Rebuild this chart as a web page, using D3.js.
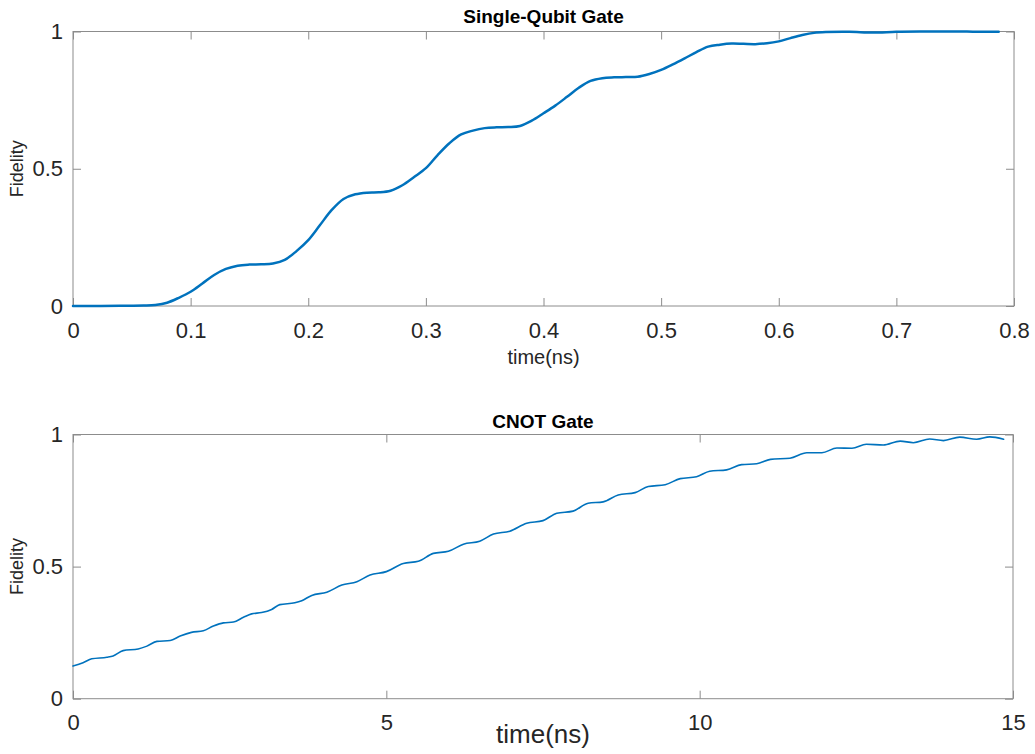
<!DOCTYPE html>
<html>
<head>
<meta charset="utf-8">
<script src="https://cdn.jsdelivr.net/npm/d3@7"></script>
<style>
  html, body { margin: 0; padding: 0; background: #fff; }
  svg { display: block; }
  text { font-family: "Liberation Sans", Arial, Helvetica, sans-serif; }
</style>
</head>
<body>
<svg id="chart" width="1035" height="754"></svg>
<script>
// ---------- Data ----------
const singleTime = [0, 0.02, 0.04, 0.06, 0.07, 0.08, 0.09, 0.10, 0.11, 0.12, 0.13, 0.14, 0.15, 0.16, 0.17, 0.18, 0.19,
  0.20, 0.21, 0.22, 0.23, 0.24, 0.25, 0.26, 0.27, 0.28, 0.29, 0.30, 0.31, 0.32, 0.33, 0.34, 0.35, 0.36, 0.37, 0.38, 0.39,
  0.40, 0.41, 0.42, 0.43, 0.44, 0.45, 0.46, 0.47, 0.48, 0.49, 0.50, 0.51, 0.52, 0.53, 0.54, 0.55, 0.56, 0.57, 0.58, 0.59,
  0.60, 0.61, 0.62, 0.63, 0.64, 0.66, 0.68, 0.70, 0.72, 0.74, 0.76, 0.77, 0.787];
const singleFidelity = [0, 0, 0.001, 0.002, 0.004, 0.012, 0.03, 0.052, 0.082, 0.113, 0.135, 0.147, 0.151, 0.152, 0.155, 0.168, 0.2,
  0.24, 0.295, 0.35, 0.39, 0.407, 0.413, 0.414, 0.42, 0.44, 0.47, 0.502, 0.55, 0.593, 0.625, 0.639, 0.648, 0.651, 0.652, 0.656, 0.675,
  0.702, 0.73, 0.762, 0.795, 0.82, 0.83, 0.833, 0.834, 0.835, 0.845, 0.86, 0.88, 0.902, 0.925, 0.945, 0.952, 0.956, 0.955, 0.954, 0.957,
  0.964, 0.976, 0.987, 0.995, 0.998, 0.999, 0.996, 0.999, 1.0, 1.0, 1.0, 0.999, 0.999];

const cnotTime = [0, 0.16, 0.30, 0.54, 0.64, 0.80, 1.04, 1.18, 1.34, 1.55, 1.71, 1.89, 2.08, 2.24, 2.40, 2.56, 2.72, 2.85,
  3.01, 3.17, 3.30, 3.54, 3.65, 3.81, 4.05, 4.29, 4.53, 4.74, 5.00, 5.27, 5.51, 5.75, 5.99, 6.23, 6.49, 6.71, 6.97, 7.24,
  7.50, 7.72, 7.98, 8.22, 8.46, 8.70, 8.97, 9.18, 9.45, 9.69, 9.95, 10.16, 10.43, 10.67, 10.91, 11.13, 11.44, 11.71, 11.95,
  12.19, 12.43, 12.66, 12.93, 13.20, 13.41, 13.67, 13.89, 14.15, 14.42, 14.63, 14.85];
const cnotFidelity = [0.124, 0.136, 0.151, 0.157, 0.162, 0.182, 0.188, 0.199, 0.217, 0.220, 0.237, 0.251, 0.257, 0.275, 0.287, 0.290, 0.308, 0.321,
  0.326, 0.338, 0.356, 0.363, 0.371, 0.391, 0.403, 0.430, 0.443, 0.468, 0.481, 0.512, 0.520, 0.550, 0.558, 0.585, 0.596, 0.623, 0.634, 0.664,
  0.674, 0.702, 0.710, 0.740, 0.745, 0.771, 0.780, 0.803, 0.810, 0.833, 0.840, 0.861, 0.866, 0.886, 0.889, 0.906, 0.910, 0.931, 0.931,
  0.949, 0.948, 0.963, 0.960, 0.975, 0.969, 0.983, 0.977, 0.990, 0.982, 0.991, 0.982];

const singleXTicks = [0, 0.1, 0.2, 0.3, 0.4, 0.5, 0.6, 0.7, 0.8];
const singleXLabels = ["0", "0.1", "0.2", "0.3", "0.4", "0.5", "0.6", "0.7", "0.8"];
const cnotXTicks = [0, 5, 10, 15];
const cnotXLabels = ["0", "5", "10", "15"];
const yTicks = [0, 0.5, 1];
const yLabels = ["0", "0.5", "1"];

// ---------- Drawing ----------
const svg = d3.select("#chart");
const boxColor = "#8c8c8c";
const labelColor = "#262626";
const lineColor = "#0072BD";

function panel(cfg) {
  const { left, right, top, bottom, xDomain, xTicks, xLabels, time, fid, title, titleY,
          xLabel, xLabelY, xLabelSize, lineWidth, curve } = cfg;
  const x = d3.scaleLinear().domain(xDomain).range([left, right]);
  const y = d3.scaleLinear().domain([0, 1]).range([bottom, top]);
  const g = svg.append("g");

  const styleAxis = sel => {
    sel.select(".domain").remove();
    sel.selectAll(".tick line").attr("stroke", boxColor).attr("stroke-width", 1);
    sel.selectAll(".tick text").attr("fill", labelColor)
      .style("font-size", "22px").attr("font-family", null);
  };

  g.append("g").attr("transform", `translate(0,${bottom})`)
    .call(d3.axisBottom(x).tickValues(xTicks).tickFormat((d, i) => xLabels[i]).tickSize(-8).tickPadding(16))
    .call(styleAxis);
  g.append("g").attr("transform", `translate(0,${top})`)
    .call(d3.axisTop(x).tickValues(xTicks).tickFormat("").tickSize(-8))
    .call(styleAxis);
  g.append("g").attr("transform", `translate(${left},0)`)
    .call(d3.axisLeft(y).tickValues(yTicks).tickFormat((d, i) => yLabels[i]).tickSize(-8).tickPadding(10))
    .call(styleAxis);
  g.append("g").attr("transform", `translate(${right},0)`)
    .call(d3.axisRight(y).tickValues(yTicks).tickFormat("").tickSize(-8))
    .call(styleAxis);

  g.append("rect").attr("x", left).attr("y", top)
    .attr("width", right - left).attr("height", bottom - top)
    .attr("fill", "none").attr("stroke", boxColor).attr("stroke-width", 1);

  const data = time.map((t, i) => [t, fid[i]]);
  g.append("path").datum(data)
    .attr("fill", "none").attr("stroke", lineColor).attr("stroke-width", lineWidth)
    .attr("stroke-linejoin", "round").attr("stroke-linecap", "round")
    .attr("d", d3.line().x(d => x(d[0])).y(d => y(d[1])).curve(curve));

  g.append("text").attr("x", (left + right) / 2).attr("y", titleY)
    .attr("text-anchor", "middle").attr("font-weight", "bold")
    .style("font-size", "19px").attr("fill", "#000").text(title);

  g.append("text").attr("x", (left + right) / 2).attr("y", xLabelY)
    .attr("text-anchor", "middle").style("font-size", xLabelSize + "px")
    .attr("fill", labelColor).text(xLabel);

  g.append("text")
    .attr("transform", `translate(23,${(top + bottom) / 2}) rotate(-90)`)
    .attr("text-anchor", "middle").style("font-size", "18px")
    .attr("fill", labelColor).text("Fidelity");
}

panel({
  left: 73, right: 1014, top: 31.5, bottom: 306,
  xDomain: [0, 0.8], xTicks: singleXTicks, xLabels: singleXLabels,
  time: singleTime, fid: singleFidelity,
  title: "Single-Qubit Gate", titleY: 23,
  xLabel: "time(ns)", xLabelY: 364, xLabelSize: 20, lineWidth: 2.5,
  curve: d3.curveCatmullRom.alpha(0.5)
});

panel({
  left: 73, right: 1013, top: 434.5, bottom: 698.7,
  xDomain: [0, 15], xTicks: cnotXTicks, xLabels: cnotXLabels,
  time: cnotTime, fid: cnotFidelity,
  title: "CNOT Gate", titleY: 428,
  xLabel: "time(ns)", xLabelY: 743, xLabelSize: 26, lineWidth: 1.6,
  curve: d3.curveMonotoneX
});
</script>
</body>
</html>
